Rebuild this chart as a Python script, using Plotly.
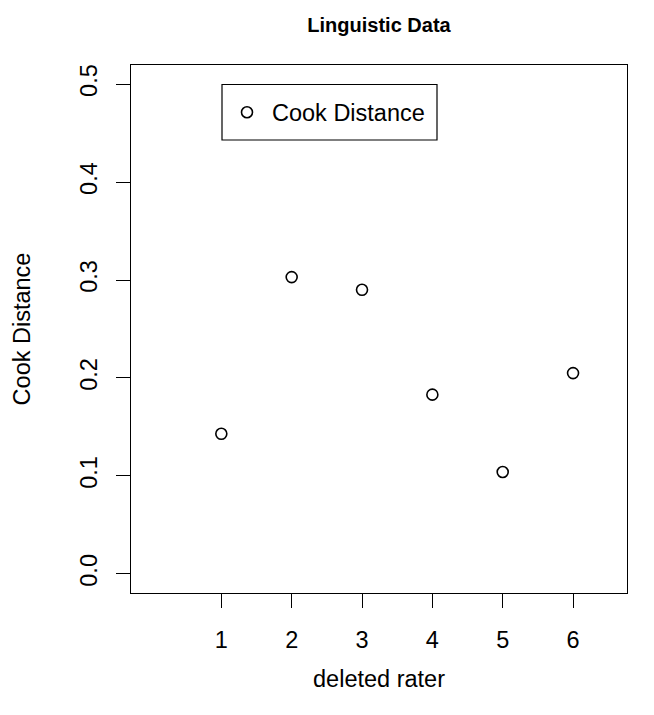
import plotly.graph_objects as go

# Cook distance for each deleted rater
raters = [1, 2, 3, 4, 5, 6]
cook_distance = [0.143, 0.303, 0.290, 0.183, 0.104, 0.205]

x_ticks = [1, 2, 3, 4, 5, 6]
y_ticks = [0.0, 0.1, 0.2, 0.3, 0.4, 0.5]
y_tick_labels = ["0.0", "0.1", "0.2", "0.3", "0.4", "0.5"]

FONT = "Liberation Sans, Arial, sans-serif"
FS = 23.5
W, H = 654, 715
M_L, M_R, M_T, M_B = 131, 27, 65, 122
PW, PH = W - M_L - M_R, H - M_T - M_B


def px_x(px):
    return (px - M_L) / PW


def px_y(py):
    return 1 - (py - M_T) / PH


fig = go.Figure()
fig.add_trace(go.Scatter(
    x=raters, y=cook_distance, mode="markers", name="Cook Distance",
    marker=dict(symbol="circle-open", size=11, color="black",
                line=dict(width=1.6, color="black")),
    showlegend=True,
))

axis_common = dict(
    showgrid=False, zeroline=False, showline=True, mirror=True,
    linecolor="black", linewidth=1.2, ticks="outside", ticklen=14,
    tickwidth=1.2, tickcolor="black",
    tickfont=dict(family=FONT, size=FS, color="black"),
)

# legend frame
fig.add_shape(type="rect", xref="paper", yref="paper",
              x0=px_x(222), x1=px_x(437), y0=px_y(140), y1=px_y(84.5),
              line=dict(color="black", width=1.2), fillcolor="white",
              layer="below")

fig.update_layout(
    width=W, height=H,
    margin=dict(l=M_L, r=M_R, t=M_T, b=M_B),
    paper_bgcolor="white", plot_bgcolor="white",
    font=dict(family=FONT, size=FS, color="black"),
    title=dict(text="<b>Linguistic Data</b>", x=(M_L + PW / 2) / W,
               xanchor="center", xref="container",
               y=1 - 25 / H, yanchor="middle", yref="container",
               font=dict(family=FONT, size=20, color="black")),
    xaxis=dict(axis_common, range=[-0.284, 6.767], tickvals=x_ticks,
               ticklabelstandoff=12,
               title=dict(text="deleted rater", standoff=18,
                          font=dict(family=FONT, size=FS))),
    yaxis=dict(axis_common, range=[-0.0195, 0.5195], tickvals=y_ticks,
               ticktext=y_tick_labels, tickangle=-90, ticklabelstandoff=10,
               title=dict(text="Cook Distance", standoff=38,
                          font=dict(family=FONT, size=FS))),
    legend=dict(x=px_x(222), xanchor="left",
                y=px_y(112.5), yanchor="middle",
                bordercolor="black", borderwidth=0, bgcolor="rgba(0,0,0,0)",
                font=dict(family=FONT, size=FS, color="black"),
                itemwidth=40),
)

fig.write_html("out.html")
